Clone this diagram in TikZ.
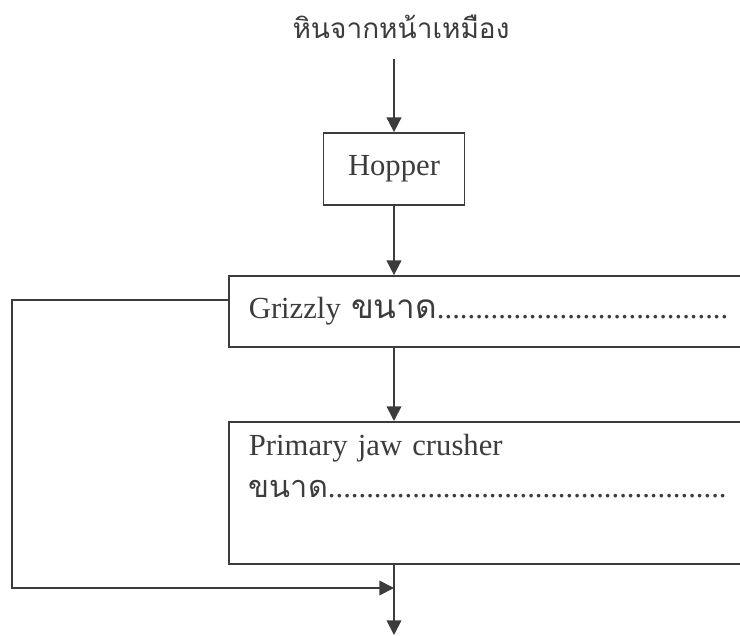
\documentclass[tikz,border=0pt]{standalone}
\usepackage{fontspec}
\setmainfont{Liberation Serif}
\newfontfamily\thai[Script=Thai]{Loma}
\usetikzlibrary{arrows.meta}
\definecolor{ink}{HTML}{3C3C3C}

\begin{document}
\begin{tikzpicture}[x=0.75pt,y=-0.75pt,
    box/.style={draw=ink,line width=1.3pt,text=ink,font=\fontsize{23}{31.5}\selectfont},
    arr/.style={-{Triangle[length=11pt,width=11pt]},draw=ink,line width=1.3pt}]
    \useasboundingbox (0,0) rectangle (740,636);
    \node[text=ink,inner sep=0pt,font=\thai\fontsize{21}{24}\selectfont] (src) at (401,27) {หินจากหน้าเหมือง};
    \node[box,minimum width=105.75pt,minimum height=54pt] (hopper) at (394,169) {Hopper};
    \node[box,anchor=west,minimum width=429pt,minimum height=53.25pt,text width=399pt,inner xsep=15pt,align=left] (grizzly) at (228,311.5)
      {Grizzly {\thai\fontsize{25}{31.5}\selectfont ขนาด}......................................};
    \node[box,anchor=north west,minimum width=429pt,minimum height=106.5pt,text width=399pt,inner xsep=15pt,align=left] (primary) at (228,421)
      {Primary jaw crusher\\{\thai\fontsize{23}{31.5}\selectfont ขนาด}....................................................\\\strut};
    \coordinate (bend) at (12,300);
    \coordinate (merge) at (394,588);
    \coordinate (out) at (394,635);

    \draw[arr,shorten <=15pt] (src.south -| hopper) -- (hopper);
    \draw[arr] (hopper) -- (hopper |- grizzly.north);
    \draw[arr] (hopper |- grizzly.south) -- (hopper |- primary.north);
    \draw[arr] (hopper |- primary.south) -- (out);
    \draw[arr] (grizzly.west |- bend) -- (bend) |- (merge);
  \end{tikzpicture}
\end{document}
